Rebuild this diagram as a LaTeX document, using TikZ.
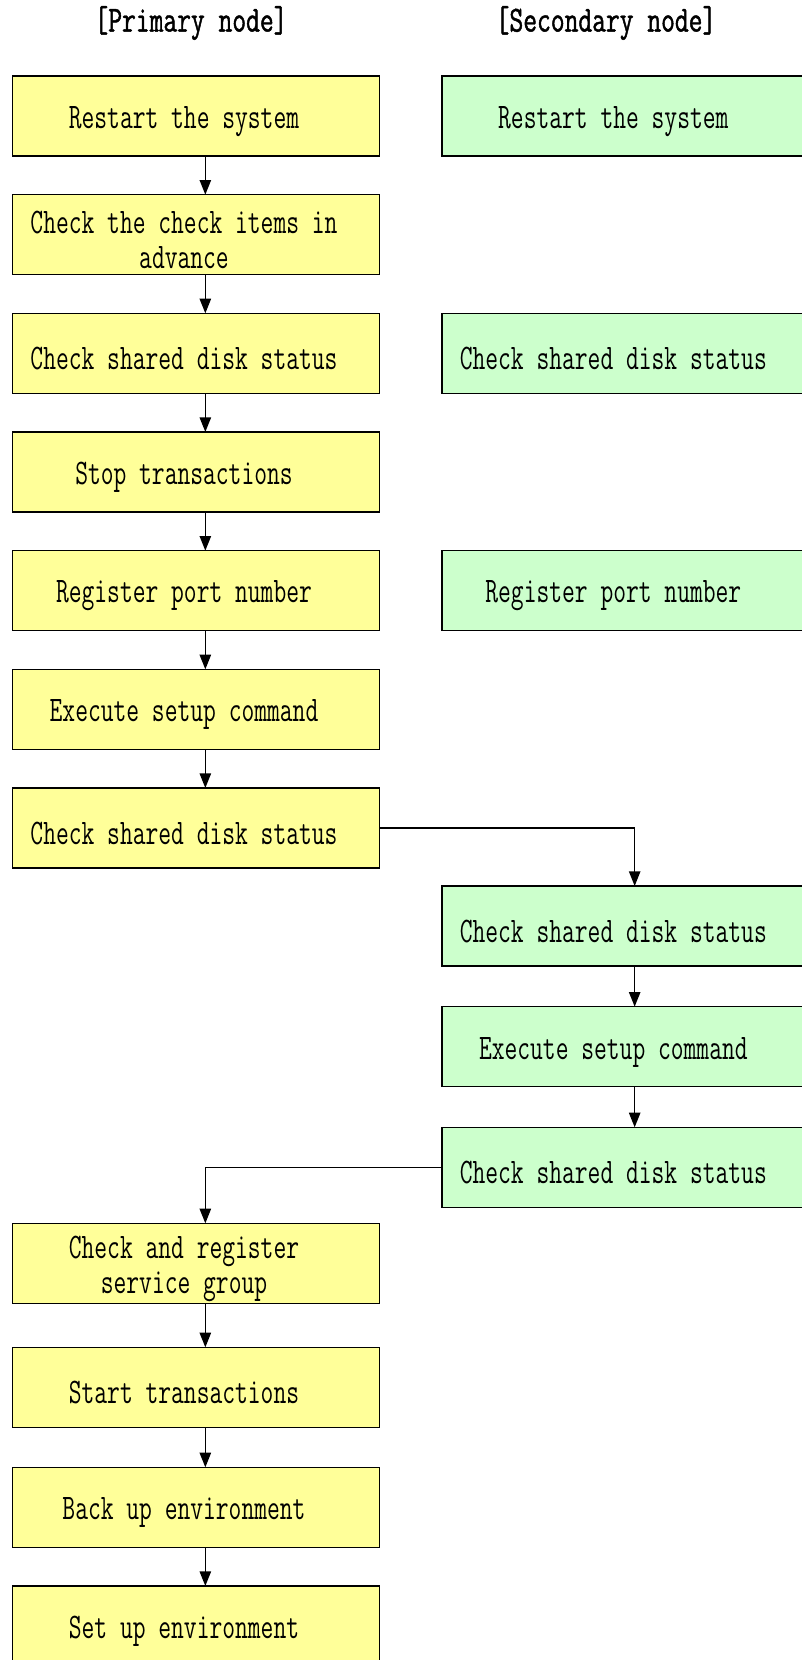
\documentclass[tikz,border=0pt]{standalone}
\usepackage{fontspec}
\usepackage{tikz}
\usetikzlibrary{arrows.meta, positioning}
\newfontfamily\boxfont[FakeStretch=0.69]{Latin Modern Mono}
\newfontfamily\headfont[FakeStretch=0.73, FakeBold=1.2]{Latin Modern Mono}
\newcommand{\steptext}{\boxfont\fontsize{27pt}{26pt}\selectfont}
\newcommand{\headtext}{\headfont\fontsize{27.5pt}{27pt}\selectfont}
\definecolor{primfill}{HTML}{FFFF99}
\definecolor{secfill}{HTML}{CCFFCC}

\begin{document}
\begin{tikzpicture}[
    x=0.75pt, y=-0.75pt,
    node distance=29pt and 47pt,
    ybox/.style={rectangle, draw=black, fill=primfill, line width=1.2pt, minimum width=275pt, minimum height=60pt, inner sep=0pt, outer sep=0pt},
    gbox/.style={ybox, fill=secfill},
    txt/.style={font=\steptext, align=center, inner sep=0pt, xshift=-9pt, yshift=-4pt},
    head/.style={font=\headtext},
    arr/.style={-{Triangle[length=11pt, width=8.5pt]}, line width=1.2pt}
]
\useasboundingbox (0,0) rectangle (801,1660);

% Headers
\node[head] (hprim) at (191,23) {[Primary node]};
\node[head] (hsec) at (606,23) {[Secondary node]};

% Primary node steps
\node[ybox, label={[txt]center:Restart the system}] (y1) at (196,116) {};
\node[ybox, below=of y1, label={[txt]center:Check the check items in\\advance}] (y2) {};
\node[ybox, below=of y2, label={[txt]center:Check shared disk status}] (y3) {};
\node[ybox, below=of y3, label={[txt]center:Stop transactions}] (y4) {};
\node[ybox, below=of y4, label={[txt]center:Register port number}] (y5) {};
\node[ybox, below=of y5, label={[txt]center:Execute setup command}] (y6) {};
\node[ybox, below=of y6, label={[txt]center:Check shared disk status}] (y7) {};

% Secondary node steps
\node[gbox, right=of y1, label={[txt]center:Restart the system}] (g1) {};
\node[gbox, right=of y3, label={[txt]center:Check shared disk status}] (g2) {};
\node[gbox, right=of y5, label={[txt]center:Register port number}] (g3) {};
\node[gbox, below right=13.5pt and 47pt of y7, label={[txt]center:Check shared disk status}] (g4) {};
\node[gbox, below=30.5pt of g4, label={[txt]center:Execute setup command}] (g5) {};
\node[gbox, below=30.5pt of g5, label={[txt]center:Check shared disk status}] (g6) {};

% Primary node again
\node[ybox, below left=12pt and 47pt of g6, label={[txt]center:Check and register\\service group}] (y8) {};
\node[ybox, below=33pt of y8, label={[txt]center:Start transactions}] (y9) {};
\node[ybox, below=30pt of y9, label={[txt]center:Back up environment}] (y10) {};
\node[ybox, below=29pt of y10, label={[txt]center:Set up environment}] (y11) {};

% Arrows
\foreach \a/\b in {y1/y2, y2/y3, y3/y4, y4/y5, y5/y6, y6/y7, g4/g5, g5/g6, y8/y9, y9/y10, y10/y11}
    \draw[arr] ([xshift=7pt]\a.south) -- ([xshift=7pt]\b.north);
\draw[arr] (y7.east) -| ([xshift=7pt]g4.north);
\draw[arr] (g6.west) -| ([xshift=7pt]y8.north);

\end{tikzpicture}
\end{document}
